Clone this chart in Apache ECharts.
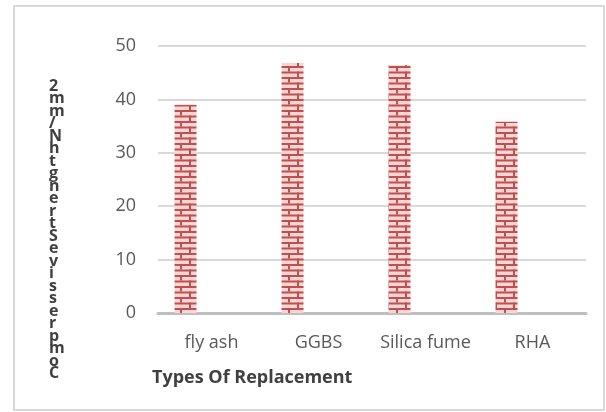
<!DOCTYPE html>
<html>
<head>
<meta charset="utf-8">
<script src="https://cdn.jsdelivr.net/npm/echarts@6/dist/echarts.min.js"></script>
<style>
html,body{margin:0;padding:0;background:#fff;}
#chart{width:606px;height:412px;}
</style>
</head>
<body>
<div id="chart"></div>
<script>
var categories = ['fly ash', 'GGBS', 'Silica fume', 'RHA'];
var strengthValues = [39, 46.8, 46.4, 35.8];
var emptySeries = [null, null, null, null];
var yTicks = [0, 10, 20, 30, 40, 50];
var yTitle = 'CompressiveStrengthN/mm2';
var xTitle = 'Types Of Replacement';

// horizontal brick pattern
var tile = document.createElement('canvas');
tile.width = 18; tile.height = 11;
var c = tile.getContext('2d');
c.fillStyle = '#f6d6d6';
c.fillRect(0, 0, 18, 11);
c.fillStyle = '#c0504d';
c.fillRect(0, 0, 18, 2);
c.fillRect(0, 5.5, 18, 2);
c.fillRect(0, 0, 2, 5.5);
c.fillRect(9, 5.5, 2, 5.5);

var chart = echarts.init(document.getElementById('chart'), null, {renderer: 'canvas'});
var font = 'Open Sans';
chart.setOption({
  animation: false,
  grid: {left: 158, right: 20, top: 46, bottom: 99},
  xAxis: {
    type: 'category',
    data: categories,
    axisLine: {lineStyle: {color: '#bfbfbf', width: 3}},
    axisTick: {show: false},
    axisLabel: {color: '#595959', fontFamily: font, fontSize: 18, margin: 21, interval: 0, hideOverlap: false}
  },
  yAxis: {
    type: 'value',
    min: yTicks[0], max: yTicks[yTicks.length - 1], interval: 10,
    axisLine: {show: false},
    axisTick: {show: false},
    axisLabel: {color: '#595959', fontFamily: font, fontSize: 18, margin: 22},
    splitLine: {lineStyle: {color: '#d9d9d9', width: 2}}
  },
  series: [
    {type: 'bar', data: strengthValues, barWidth: 22, barGap: '136%',
     itemStyle: {color: {image: tile, repeat: 'repeat'}}},
    {type: 'bar', data: emptySeries, barWidth: 22}
  ],
  graphic: [
    {type: 'rect', shape: {x: 14, y: 6, width: 590, height: 404},
     style: {fill: 'none', stroke: '#d9d9d9', lineWidth: 2}, silent: true},
    {type: 'text', left: 49, top: 78,
     style: {text: yTitle.split('').reverse().join('\n'), font: 'bold 16px "Open Sans"', fill: '#404040', lineHeight: 12.5, align: 'center'}},
    {type: 'text', left: 152, top: 369,
     style: {text: xTitle, font: 'bold 18px "Open Sans"', fill: '#404040'}}
  ]
});
</script>
</body>
</html>
